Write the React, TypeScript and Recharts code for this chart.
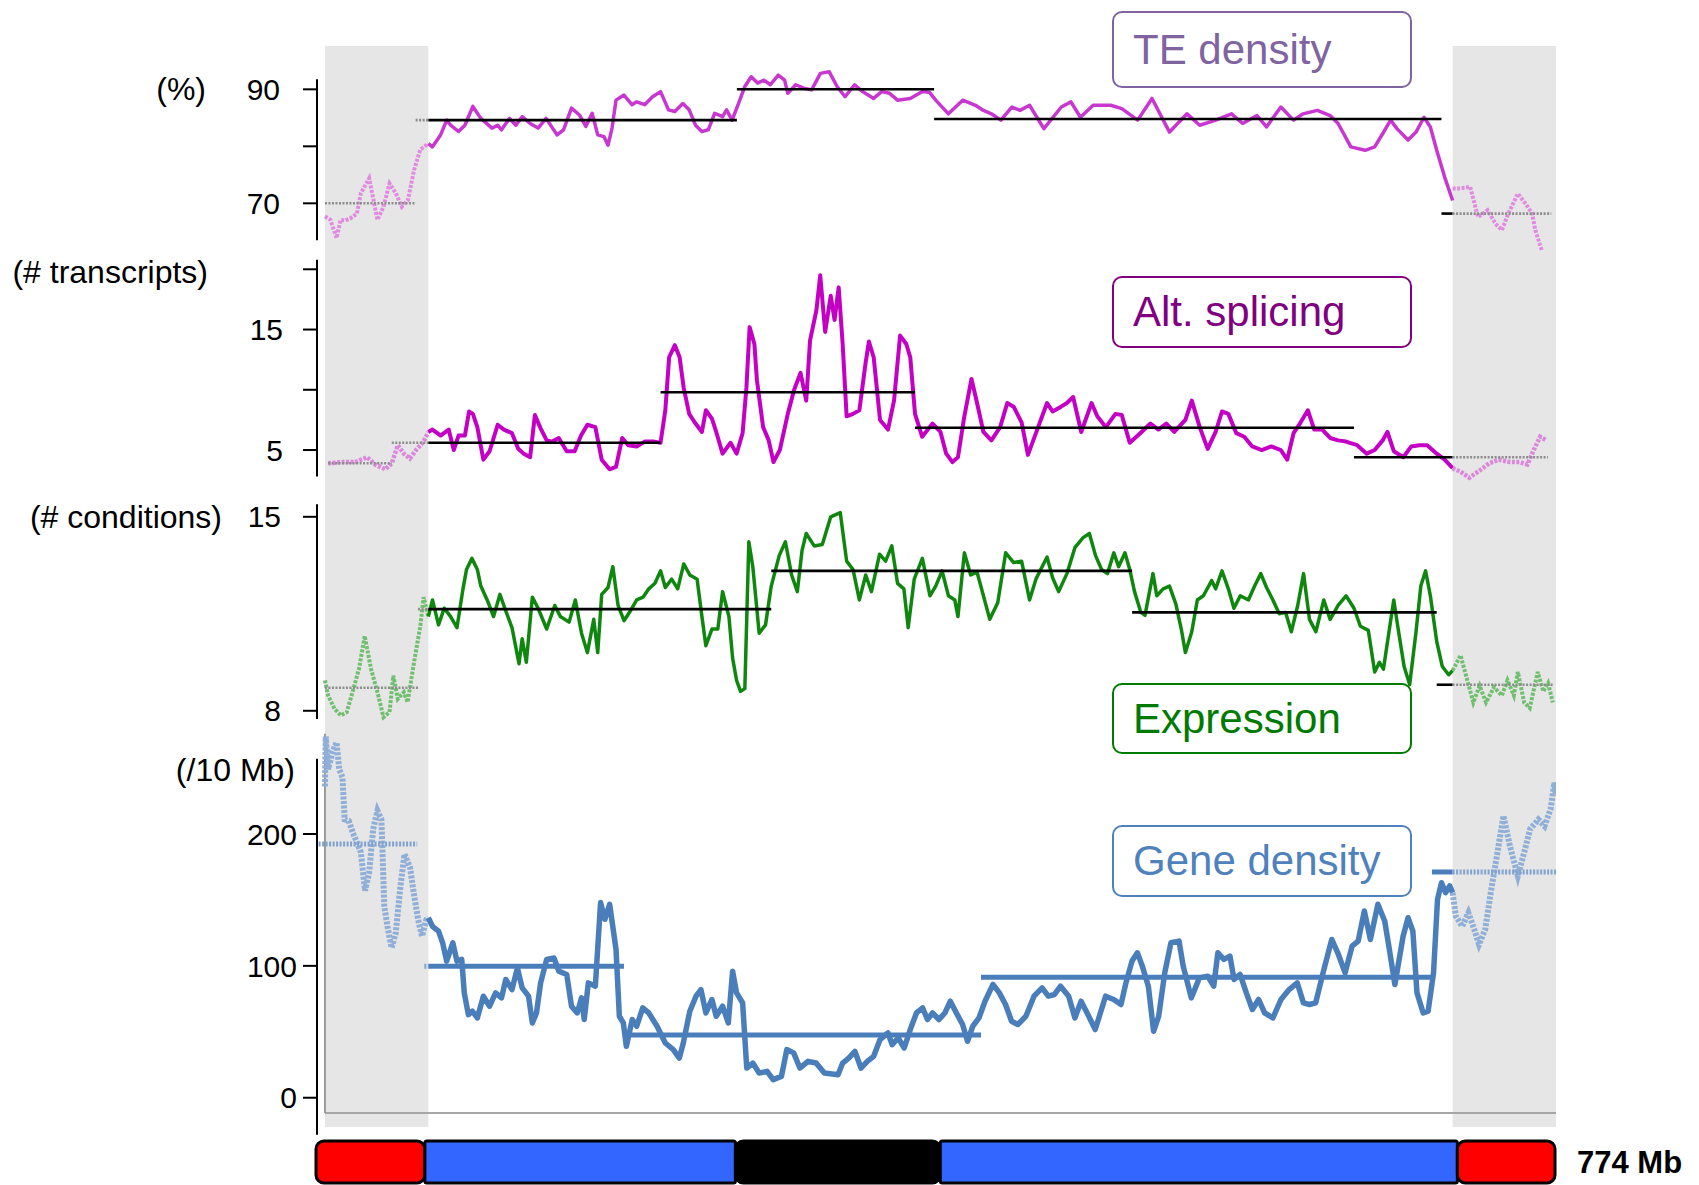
import React from 'react';
import { ComposedChart, Line, XAxis, YAxis, ReferenceLine, ReferenceArea, BarChart, Bar } from 'recharts';

const FONT = '"Liberation Sans", Arial, Helvetica, sans-serif';
const W = 1699;
const H = 1185;

// position along the chromosome, in Mb
const X_DOMAIN: [number, number] = [-5, 774];
const CORE_FROM = 65; // grey (telomeric) bands: 0-65 and 709-774
const CORE_TO = 709;

type Pt = [number, number]; // [Mb, value]
type Mean = [number, number, number]; // [from Mb, to Mb, value]

// ---- TE density (%)
const teLeft: Pt[] = [[0, 67.7], [3.4, 67.1], [7.3, 63.9], [9.8, 67.1], [13, 67.0], [16.2, 67.4], [20.1, 68.2], [22.6, 71.8], [27.8, 74.4], [33, 67.1], [36.8, 69.4], [40.6, 73.5], [44.5, 71.8], [48.3, 69.4], [52.2, 70.6], [56, 75.8], [59.9, 79.4], [65, 80.5]];
const teCore: Pt[] = [[65, 80.5], [67.5, 79.9], [72.7, 82.0], [76.6, 84.6], [79, 83.7], [84, 82.6], [88, 83.7], [93, 87.0], [98, 84.9], [105, 83.2], [108.6, 83.7], [111, 82.9], [116, 84.9], [120, 83.7], [124, 85.2], [129, 84.0], [134, 83.2], [139, 84.9], [146, 82.0], [150, 82.9], [155, 86.7], [160, 85.5], [164, 83.5], [168, 85.8], [171.5, 82.0], [175.4, 81.7], [178, 80.2], [180.5, 83.2], [183, 88.1], [188, 89.0], [193, 87.3], [196, 87.8], [201, 87.3], [206, 88.7], [211, 89.6], [216, 86.4], [220, 86.1], [225, 87.5], [229, 86.4], [233, 83.7], [237, 82.6], [241, 82.9], [245, 85.8], [250, 85.2], [252.5, 86.4], [256, 84.6], [260, 87.5], [264, 90.5], [268, 92.2], [272, 91.1], [276, 91.6], [280, 90.8], [285, 92.5], [289, 91.6], [291, 89.3], [296, 90.8], [301, 90.2], [306, 89.9], [311.5, 92.8], [317, 93.1], [322, 90.5], [327, 88.7], [333, 90.8], [338, 89.6], [345, 88.4], [350, 89.6], [355, 89.3], [360, 88.1], [368, 88.4], [375.6, 89.6], [380, 89.5], [384, 88.1], [392, 85.7], [401, 88.1], [409, 87.2], [414, 86.3], [419, 85.7], [425, 84.6], [432, 86.9], [437, 86.3], [443, 87.2], [452, 83.1], [463, 86.9], [469, 87.8], [475, 85.1], [483, 87.2], [494, 87.2], [501, 86.6], [511, 84.6], [520, 88.4], [531, 82.5], [542, 85.7], [550, 83.7], [560, 84.6], [570, 85.7], [577, 84.0], [586, 85.4], [592, 83.4], [601, 86.9], [609, 84.6], [615, 85.7], [624, 86.3], [632, 85.4], [637, 84.0], [645, 79.9], [654, 79.3], [660, 79.9], [665, 82.2], [670, 84.6], [674, 83.1], [681, 81.1], [686, 82.5], [691, 85.1], [695, 83.4], [699, 79.3], [704, 74.6], [709, 70.5]];
const teRight: Pt[] = [[709, 72.6], [714, 72.6], [720, 72.9], [725, 67.6], [731, 68.8], [736, 66.4], [740, 65.3], [744, 68.2], [750, 71.7], [755, 69.9], [759, 68.2], [761, 65.3], [765, 61.8]];
const teMeans: Mean[] = [[0, 57, 70], [57, 259, 84.6], [259, 383, 90], [383, 702, 84.8], [702, 771, 68.2]];

// ---- Alternative splicing (# transcripts)
const asLeft: Pt[] = [[2, 3.9], [11, 4.0], [19, 4.0], [26.5, 4.4], [31.6, 3.8], [38, 3.4], [42, 3.9], [45.8, 5.4], [49.6, 4.7], [53.4, 4.3], [57.3, 5.0], [62, 5.7], [65, 6.5]];
const asCore: Pt[] = [[65, 6.5], [67.6, 6.7], [72.7, 6.2], [77.8, 6.7], [81, 5.0], [84, 6.2], [88, 6.2], [90.6, 8.2], [93, 8.0], [95.8, 6.9], [99.6, 4.2], [103.5, 4.9], [108.6, 7.1], [112.5, 6.7], [117.6, 6.4], [121.5, 5.1], [125, 4.7], [129, 4.4], [132, 7.9], [135.6, 6.8], [139.4, 5.8], [143, 5.7], [147, 6.0], [152, 4.9], [157, 4.9], [161, 6.2], [165, 7.1], [170, 6.9], [174, 4.2], [179, 3.4], [183, 3.6], [186.9, 6.0], [190.7, 5.4], [196, 5.3], [201, 5.7], [207, 5.7], [211, 5.6], [214, 8.3], [216.4, 12.7], [220, 13.7], [223, 12.7], [225.5, 10.2], [229, 8.0], [233, 7.2], [237, 6.5], [239.5, 8.3], [243.3, 7.6], [246, 6.5], [250, 4.7], [255, 5.6], [258.8, 4.7], [262.6, 6.4], [265, 10.2], [267, 15.2], [270, 13.8], [271.6, 10.8], [275.5, 6.9], [279, 5.8], [282, 4.0], [286, 5.0], [291, 8.0], [295, 10.0], [299, 11.4], [302.6, 9.1], [305, 14.1], [309, 16.6], [311.4, 19.5], [314.5, 14.8], [318, 17.8], [320.4, 15.8], [323, 18.5], [325.5, 13.8], [328, 7.8], [332, 8.0], [336, 8.3], [340, 12.3], [342, 14.0], [345, 12.7], [349, 7.5], [354, 6.7], [357.8, 9.1], [361.6, 14.5], [365.5, 13.8], [368, 12.7], [371, 8.0], [375.5, 6.1], [382, 7.2], [387, 6.5], [390.6, 4.7], [394.5, 4.0], [398, 4.4], [402, 7.8], [406.5, 10.9], [410, 8.9], [414, 6.5], [419, 5.8], [424.5, 6.9], [429, 8.9], [433, 8.6], [438, 7.3], [442, 4.6], [447, 6.4], [454, 8.9], [457.5, 8.2], [462.8, 8.6], [466.5, 8.9], [470.4, 9.4], [475.5, 6.5], [482, 8.9], [485.6, 7.8], [491, 6.9], [497, 8.0], [501, 7.9], [506, 5.6], [512.6, 6.4], [519, 7.2], [524, 6.7], [529, 7.2], [534, 6.5], [541, 7.5], [545, 9.1], [550, 6.9], [555, 5.1], [560, 6.5], [564, 8.2], [568, 8.0], [573, 6.4], [578, 6.1], [583, 5.3], [589, 5.0], [595, 5.3], [601, 5.0], [605, 4.2], [609, 6.4], [613, 7.2], [618, 8.3], [622, 6.7], [627, 6.7], [632, 6.0], [637, 5.8], [642, 5.7], [649, 5.4], [655, 4.7], [660, 5.0], [665, 5.8], [668, 6.5], [672, 4.9], [678, 4.4], [683, 5.3], [688, 5.4], [693, 5.4], [699, 4.7], [704, 4.2], [709, 3.5]];
const asRight: Pt[] = [[709, 3.5], [714, 3.2], [719.5, 2.7], [726, 3.3], [732, 3.9], [738, 4.2], [745, 4.0], [751, 4.0], [756, 3.8], [760, 5.0], [764, 6.1], [768, 5.8]];
const asMeans: Mean[] = [[2, 42, 3.9], [42, 211, 5.6], [211, 371, 9.8], [371, 647, 6.85], [647, 769, 4.4]];

// ---- Expression (# conditions)
const exLeft: Pt[] = [[0, 9.1], [2, 8.55], [6, 8.07], [10, 7.83], [13.7, 7.95], [17.6, 8.73], [21.4, 9.51], [25, 10.7], [29, 9.5], [33, 8.67], [36.8, 7.77], [40.6, 7.95], [43, 9.27], [45.8, 8.43], [49.6, 8.67], [52, 8.31], [56, 9.75], [60, 11.07], [62, 12.1], [65, 11.4]];
const exCore: Pt[] = [[65, 11.4], [67.6, 12.0], [71.4, 11.1], [75, 11.7], [79, 11.4], [83, 11.0], [86.8, 12.4], [89, 13.1], [92.4, 13.5], [95.8, 13.1], [98, 12.5], [102, 12.0], [106, 11.4], [110, 12.2], [113.7, 11.6], [117.6, 11.0], [122, 9.7], [124, 10.6], [126.6, 9.75], [130.4, 12.1], [134, 11.7], [139.4, 10.95], [144.5, 11.8], [148, 11.4], [153.5, 11.2], [157.4, 12.0], [161.3, 10.8], [165, 10.1], [169, 11.3], [171.5, 10.1], [174, 12.2], [178, 12.45], [181, 13.2], [184.3, 11.8], [188, 11.25], [192, 11.6], [196, 12.0], [200, 12.1], [203.6, 12.4], [207.5, 12.6], [211, 13.05], [214, 12.45], [218, 12.75], [221.8, 12.4], [225.6, 13.3], [229.4, 12.9], [234, 12.75], [237, 11.4], [239.5, 10.35], [243.3, 10.95], [247, 10.95], [250, 12.3], [254, 11.4], [256.3, 9.9], [258.8, 9.1], [261.3, 8.7], [264, 8.8], [266.5, 14.1], [269, 13.2], [273, 10.8], [277, 11.1], [280.6, 12.5], [285.6, 13.6], [289.5, 14.1], [293.4, 12.9], [297, 12.3], [300, 13.8], [302.6, 14.4], [307.6, 13.95], [312.7, 14.0], [318, 15.0], [324, 15.15], [328, 13.4], [332, 13.1], [336, 12.0], [340, 12.9], [343.6, 12.3], [348.7, 13.65], [352.5, 13.4], [356.4, 13.95], [360, 12.6], [364, 12.4], [366.7, 11.0], [370.5, 12.75], [375.6, 13.5], [380.4, 12.15], [384, 12.5], [388, 13.05], [392, 12.15], [396, 12.0], [398, 11.4], [402, 13.7], [406, 12.9], [410, 13.0], [414, 12.15], [418, 11.3], [423, 11.9], [428, 13.7], [433, 13.35], [438, 13.4], [443, 12.0], [447, 12.75], [454, 13.55], [457.5, 12.8], [461.3, 12.3], [466.5, 12.95], [471.6, 13.9], [476.7, 14.25], [480.6, 14.4], [484.5, 13.6], [488.3, 13.1], [492, 12.95], [496, 13.7], [499, 13.2], [503, 13.7], [506, 13.1], [509, 12.3], [513, 11.55], [515.6, 11.45], [520.6, 12.95], [523, 12.15], [527, 12.4], [531, 12.5], [535, 11.85], [538.4, 10.95], [541, 10.1], [545, 10.85], [548.5, 12.0], [552.3, 12.15], [557.5, 12.7], [560, 12.4], [564, 13.05], [568, 12.4], [571.5, 11.7], [575.5, 12.15], [580.6, 12.0], [584.5, 12.5], [588.4, 12.95], [592, 12.45], [596, 12.0], [600, 11.5], [604, 11.55], [607.6, 10.85], [611.6, 11.8], [615.3, 12.95], [619, 11.3], [623, 10.85], [628, 12.0], [632, 11.3], [637, 11.8], [642, 12.15], [647, 11.7], [651, 11.05], [656, 10.9], [660, 9.4], [663, 9.75], [665.5, 9.5], [669, 10.85], [672, 12.0], [674.5, 11.05], [678.5, 9.6], [682, 8.95], [686, 10.85], [689, 12.5], [692, 13.05], [695, 12.15], [699, 10.5], [702.5, 9.6], [706.5, 9.3], [709, 9.45]];
const exRight: Pt[] = [[709, 9.45], [714, 10.0], [718, 9.15], [722, 8.3], [726, 8.9], [730, 8.3], [735, 8.85], [740, 8.55], [743.5, 9.1], [747.5, 8.55], [750, 9.4], [754, 8.3], [757.5, 8.1], [762.5, 9.4], [766, 8.7], [769, 9.0], [772, 8.3]];
const exMeans: Mean[] = [[0, 58.5, 8.83], [58.5, 280.6, 11.67], [280.6, 507.5, 13.05], [507.5, 699, 11.55], [699, 772, 8.94]];

// ---- Gene density (/10 Mb)
const gdLeft: Pt[] = [[0, 236], [0.5, 274], [2, 249], [4.7, 262], [7.3, 269.5], [9, 249], [11, 243], [12.4, 211], [15, 210], [17.5, 201], [20.1, 193.5], [22.6, 186], [25.2, 157], [27.8, 170.7], [30.3, 203.6], [33, 217.6], [35.5, 211], [37.3, 145.4], [39.3, 130], [41.9, 113.7], [44.5, 125], [47.5, 160.6], [50, 184.7], [53.5, 174.5], [56, 154], [58.6, 135], [61, 122.6], [63.7, 135], [65, 136.5]];
const gdCore: Pt[] = [[65, 136.5], [67.6, 130], [71.4, 126.4], [74, 117.5], [76.5, 103.6], [80.4, 117.5], [83, 103.6], [86, 104.9], [87.6, 79.5], [90.2, 63], [92.7, 65.6], [95.8, 60.5], [99.6, 77], [103.5, 69.4], [107.3, 79.5], [111, 75.7], [113.7, 89.7], [117.6, 82], [121, 98.5], [124, 83.3], [128, 77], [130.4, 56.7], [133, 64.3], [135.6, 87.1], [139.4, 104.9], [144, 106], [147, 96], [152, 93.5], [155, 69.4], [158.6, 64.3], [161.3, 75.7], [163, 59.3], [165.6, 87.1], [170, 84.6], [173.3, 148], [176, 135.3], [179, 146.7], [183, 112.5], [185.1, 61.8], [187.6, 56.7], [189.5, 39], [193.2, 59.3], [196, 54.2], [199.8, 68.1], [203.6, 64.3], [208.8, 54.2], [214, 41.5], [219, 36.5], [222.8, 30.1], [225.3, 41.5], [229.4, 65.6], [233.3, 77], [236.4, 82], [239.5, 64.3], [243.3, 74.5], [246, 61.8], [250, 69.4], [253.6, 56.7], [256.3, 96], [258.8, 79.5], [262.6, 71.9], [265.2, 22.5], [269, 26.3], [273, 18.7], [278, 20], [281.8, 13.7], [287, 16.2], [290.4, 36.5], [294.7, 34], [298.6, 22.5], [303.7, 27.6], [308.8, 26.3], [314, 18.7], [322.6, 17.5], [325.5, 26.3], [329.3, 30.1], [333.2, 35.2], [337, 22.5], [341, 27.6], [345, 31.4], [349, 44.1], [354, 49.1], [356.6, 40.3], [360.4, 45.3], [364.2, 37.7], [368, 51.7], [371.9, 64.3], [375.8, 68.1], [378.8, 59.3], [382, 64.3], [386, 59.3], [389.8, 64.3], [393.2, 73.2], [397, 64.3], [400.9, 55.5], [404, 42.8], [407.3, 54.2], [411.2, 60.5], [415, 73.2], [420, 85.9], [424, 79.5], [427.9, 70.7], [431.7, 58], [435.6, 55.5], [440.7, 61.8], [445.8, 77], [450.9, 83.3], [454.8, 77], [458.7, 78.3], [462.5, 84.6], [467.6, 77], [471.5, 60.5], [475.4, 73.2], [479.2, 64.3], [484.3, 51.7], [490.8, 77], [495.9, 74.5], [500.5, 70.7], [503.6, 87.1], [507.4, 103.6], [510.8, 109.9], [513.9, 99.8], [517.7, 84.6], [521, 50.4], [524.2, 61.8], [528, 94.7], [531.9, 117.5], [537, 118.8], [539.6, 99.8], [544.7, 75.7], [549.8, 90.9], [555, 92.2], [558.8, 84.6], [561.4, 109.9], [565.2, 104.9], [569, 107.4], [571.6, 89.7], [575.4, 93.5], [579.3, 79.5], [583.1, 66.9], [587, 74.5], [590.8, 64.3], [596, 60.5], [601.1, 74.5], [606.2, 82], [611.3, 87.1], [615.2, 71.9], [619, 70.7], [622.9, 71.9], [627.8, 96], [633, 120], [636.8, 109.9], [641.4, 94.7], [645.8, 115], [649.6, 118.8], [653.5, 141.6], [657.3, 120], [662, 146.7], [666.3, 134], [668.9, 115], [672.7, 85.9], [677.9, 122.6], [681, 136.5], [684, 126.4], [686.6, 79.5], [690.5, 64.3], [693.6, 65.6], [697, 94.7], [699.5, 150.5], [702, 163], [704.6, 155.5], [707.2, 160.6], [709, 155.5]];
const gdRight: Pt[] = [[709, 155.5], [711, 137.8], [715, 130], [718.9, 140.3], [722.6, 127.7], [725.6, 116.3], [729.5, 127.7], [733.3, 158], [737.2, 186], [741, 213.8], [745, 191], [750, 168.2], [754, 186], [757.7, 203.6], [762.9, 211], [766.8, 206], [770.6, 218.8], [773, 239], [774, 229]];
const gdMeans: Mean[] = [[-4, 58, 192.5], [62.5, 188, 99.8], [188, 412.5, 47.6], [412.5, 696, 91.4], [696, 774, 171.2]];

// ---- chromosome ideogram (segment lengths in Mb, total 774)
const chromLengths = [68, 194, 128, 323, 61];
const chromColors = ['#ff0000', '#3366ff', '#000000', '#3366ff', '#ff0000'];
const chromRadius = [8, 2, 8, 2, 8];

const tracks = [
  {
    id: 'te', left: teLeft, core: teCore, right: teRight, means: teMeans,
    domain: [-92.05, 97.6], ticks: [70, 80, 90], labels: [70, 90], axis: [63.5, 91.75], tickMargin: 23,
    color: '#c837cf', pale: '#e28ae2', width: 3.5, meanColor: '#000', meanWidth: 2.6,
  },
  {
    id: 'as', left: asLeft, core: asCore, right: asRight, means: asMeans,
    domain: [-51.18, 38.53], ticks: [5, 10, 15, 20], labels: [5, 15], axis: [2.8, 20.8], tickMargin: 20,
    color: '#c400c4', pale: '#dc86dc', width: 4, meanColor: '#000', meanWidth: 2.6,
  },
  {
    id: 'ex', left: exLeft, core: exCore, right: exRight, means: exMeans,
    domain: [-7.02, 31.99], ticks: [8, 15], labels: [8, 15], axis: [7.7, 15.45], tickMargin: 22,
    color: '#0f870f', pale: '#6fbf6f', width: 3.5, meanColor: '#000', meanWidth: 2.6,
  },
  {
    id: 'gd', left: gdLeft, core: gdCore, right: gdRight, means: gdMeans,
    domain: [-22.2, 797.6], ticks: [0, 100, 200], labels: [0, 100, 200], axis: [-28, 257], tickMargin: 6,
    color: '#4a7ebb', pale: '#90afd8', width: 5.5, meanColor: '#4a7ebb', meanWidth: 5,
  },
];

const unitLabels = [
  { text: '(%)', right: 206, cy: 89 },
  { text: '(# transcripts)', right: 208, cy: 272 },
  { text: '(# conditions)', right: 222, cy: 517 },
  { text: '(/10 Mb)', right: 295, cy: 770 },
];

const legendBoxes = [
  { text: 'TE density', color: '#8064a2', top: 11, height: 77 },
  { text: 'Alt. splicing', color: '#800080', top: 276, height: 72 },
  { text: 'Expression', color: '#007a00', top: 683, height: 71 },
  { text: 'Gene density', color: '#4f81bd', top: 825, height: 72 },
];

const toRows = (pts: Pt[]) => pts.map(([mb, v]) => ({ mb, v }));

// split a mean segment into the parts inside / outside the grey bands
function splitMean([a, b, v]: Mean) {
  const parts: { a: number; b: number; v: number; pale: boolean }[] = [];
  if (a < CORE_FROM) parts.push({ a, b: Math.min(b, CORE_FROM), v, pale: true });
  if (b > CORE_FROM && a < CORE_TO) parts.push({ a: Math.max(a, CORE_FROM), b: Math.min(b, CORE_TO), v, pale: false });
  if (b > CORE_TO) parts.push({ a: Math.max(a, CORE_TO), b, v, pale: true });
  return parts;
}

const layer: React.CSSProperties = { position: 'absolute', left: 0, top: 0 };
const TRACK_MARGIN = { top: 46, right: 143, bottom: 58, left: 257 };

function Track({ t }: { t: any }) {
  const meanParts = t.means.flatMap((m: Mean) => splitMean(m));
  return (
    <div style={layer}>
      <ComposedChart width={W} height={H} margin={TRACK_MARGIN}>
        <XAxis type="number" dataKey="mb" domain={X_DOMAIN} allowDataOverflow hide />
        <YAxis
          type="number"
          domain={t.domain}
          ticks={t.ticks}
          interval={0}
          allowDataOverflow
          width={60}
          axisLine={false}
          tickLine={{ stroke: '#000', strokeWidth: 2 }}
          tickSize={14}
          tickMargin={t.tickMargin}
          tick={{ fontSize: 30, fill: '#000', fontFamily: FONT }}
          tickFormatter={(v: number) => (t.labels.includes(v) ? String(v) : '')}
        />
        <ReferenceLine
          segment={[{ x: X_DOMAIN[0], y: t.axis[0] }, { x: X_DOMAIN[0], y: t.axis[1] }]}
          stroke="#000"
          strokeWidth={2}
          ifOverflow="visible"
        />
        {t.id === 'gd' && (
          <ReferenceLine segment={[{ x: 0, y: -11.6 }, { x: 774, y: -11.6 }]} stroke="#a6a6a6" strokeWidth={2} ifOverflow="visible" />
        )}
        {t.id === 'gd' && (
          <ReferenceLine segment={[{ x: 0, y: -11.6 }, { x: 0, y: 276 }]} stroke="#808080" strokeWidth={1.5} ifOverflow="visible" />
        )}
        <Line data={toRows(t.left)} dataKey="v" name={`${t.id}-left`} type="linear" stroke={t.pale} strokeWidth={t.width + 0.5} strokeDasharray="3 1.5" dot={false} isAnimationActive={false} />
        <Line data={toRows(t.core)} dataKey="v" name={`${t.id}-core`} type="linear" stroke={t.color} strokeWidth={t.width} strokeLinejoin="round" dot={false} isAnimationActive={false} />
        <Line data={toRows(t.right)} dataKey="v" name={`${t.id}-right`} type="linear" stroke={t.pale} strokeWidth={t.width + 0.5} strokeDasharray="3 1.5" dot={false} isAnimationActive={false} />
        {meanParts.map((p: any, i: number) => (
          <Line
            key={`${t.id}-mean-${i}`}
            name={`${t.id}-mean-${i}`}
            data={[{ mb: p.a, v: p.v }, { mb: p.b, v: p.v }]}
            dataKey="v"
            type="linear"
            stroke={p.pale ? (t.id === 'gd' ? '#7fa2d0' : '#8c8c8c') : t.meanColor}
            strokeWidth={t.meanWidth}
            strokeDasharray={p.pale ? '2 1.5' : undefined}
            dot={false}
            isAnimationActive={false}
          />
        ))}
      </ComposedChart>
    </div>
  );
}

export default function App() {
  const chromRow: Record<string, any> = { name: 'chr' };
  chromLengths.forEach((len, i) => { chromRow[`s${i}`] = len; });

  return (
    <div style={{ position: 'absolute', left: 0, top: 0, width: W, height: H, overflow: 'hidden', background: '#fff', fontFamily: FONT }}>
      {/* grey telomeric bands behind every track */}
      <div style={layer}>
        <ComposedChart width={W} height={H} margin={{ top: 46, right: 143, bottom: 58, left: 317 }}>
          <XAxis type="number" dataKey="mb" domain={X_DOMAIN} allowDataOverflow hide />
          <YAxis type="number" domain={[0, 1]} allowDataOverflow hide />
          <ReferenceArea x1={0} x2={CORE_FROM} fill="#e6e6e6" fillOpacity={1} stroke="none" />
          <ReferenceArea x1={CORE_TO} x2={774} fill="#e6e6e6" fillOpacity={1} stroke="none" />
        </ComposedChart>
      </div>

      {tracks.map((t) => <Track key={t.id} t={t} />)}

      {/* chromosome ideogram */}
      <div style={{ position: 'absolute', left: 0, top: 1137 }}>
        <BarChart width={W} height={48} data={[chromRow]} layout="vertical" barCategoryGap={0} margin={{ top: 4, right: 144, bottom: 2, left: 316 }}>
          <XAxis type="number" domain={[0, 774]} hide />
          <YAxis type="category" dataKey="name" hide />
          {chromLengths.map((_, i) => (
            <Bar key={i} dataKey={`s${i}`} stackId="chr" fill={chromColors[i]} stroke="#000" strokeWidth={3} radius={chromRadius[i]} isAnimationActive={false} />
          ))}
        </BarChart>
      </div>
      <div style={{ position: 'absolute', left: 1577, top: 1147, fontSize: 31, lineHeight: '31px', fontWeight: 700, color: '#000' }}>774 Mb</div>

      {unitLabels.map((u) => (
        <div key={u.text} style={{ position: 'absolute', left: u.right - 300, width: 300, top: u.cy - 17, lineHeight: '34px', fontSize: 32, textAlign: 'right', color: '#000' }}>
          {u.text}
        </div>
      ))}

      {legendBoxes.map((b) => (
        <div
          key={b.text}
          style={{
            position: 'absolute', left: 1112, top: b.top, width: 300, height: b.height, boxSizing: 'border-box',
            border: `2px solid ${b.color}`, borderRadius: 10, display: 'flex', alignItems: 'center',
            paddingLeft: 19, fontSize: 42, color: b.color, background: '#fff',
          }}
        >
          {b.text}
        </div>
      ))}
    </div>
  );
}
